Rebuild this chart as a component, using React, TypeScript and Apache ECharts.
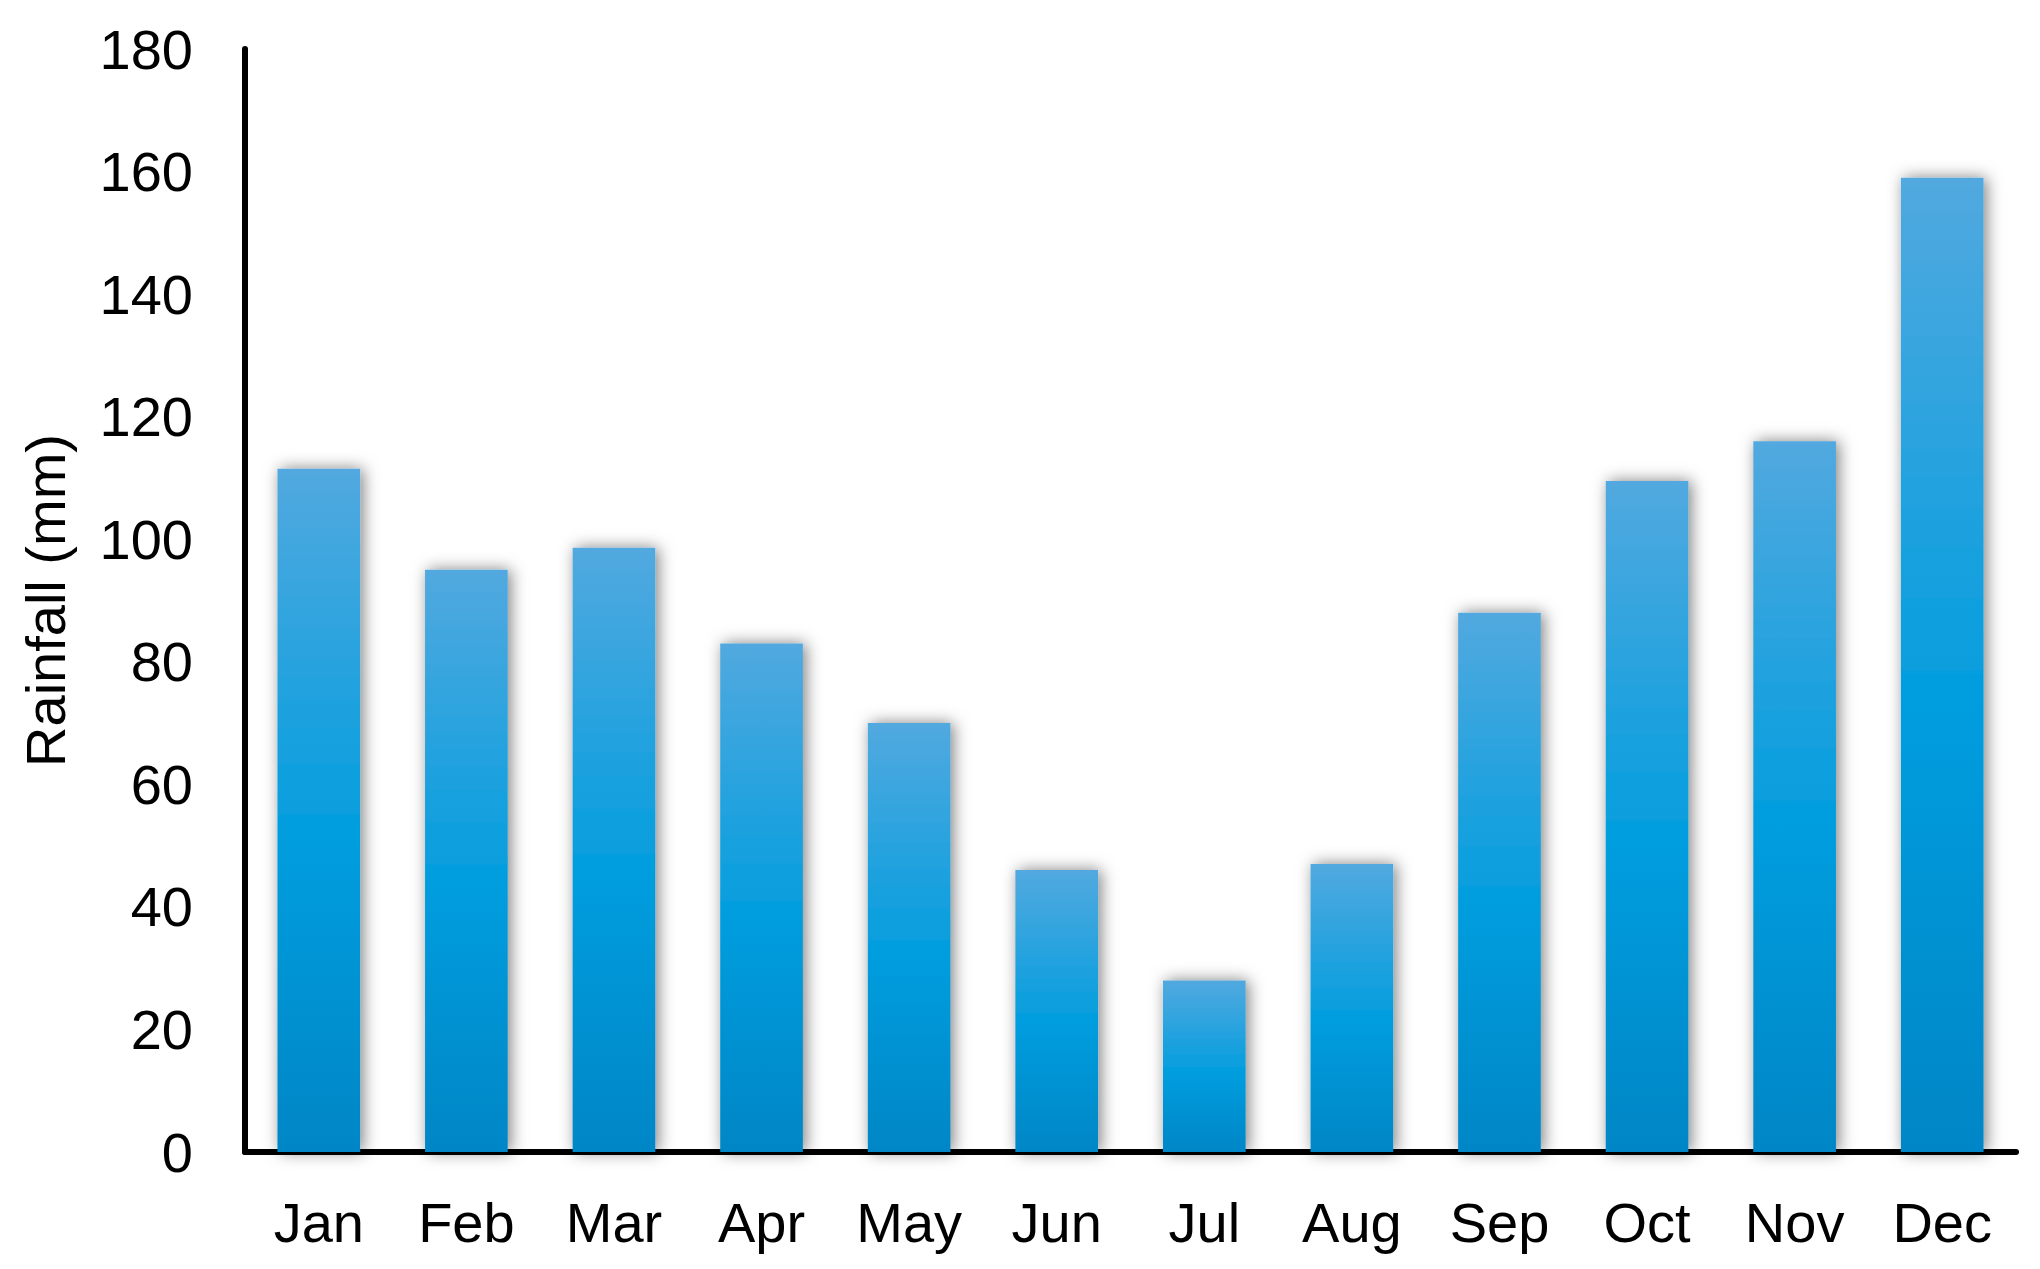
import React, { useEffect, useRef } from "react";
import * as echarts from "echarts";

const months = ["Jan", "Feb", "Mar", "Apr", "May", "Jun", "Jul", "Aug", "Sep", "Oct", "Nov", "Dec"];
const rainfall = [111.5, 95, 98.6, 83, 70, 46, 28, 47, 88, 109.5, 116, 159];
const yMin = 0;
const yMax = 180;
const yStep = 20;
const yTitle = "Rainfall (mm)";

export default function App() {
  const ref = useRef<HTMLDivElement>(null);
  useEffect(() => {
    if (!ref.current) return;
    const chart = echarts.init(ref.current, null, { renderer: "svg" });
    const font = "Liberation Sans";
    chart.setOption({
      animation: false,
      backgroundColor: "#ffffff",
      grid: { left: 245, right: 24, top: 49, bottom: 117, containLabel: false },
      xAxis: {
        type: "category",
        data: months,
        axisLine: { show: true, lineStyle: { color: "#000", width: 6 } },
        axisTick: { show: false },
        axisLabel: { color: "#000", fontFamily: font, fontSize: 56, margin: 42 },
        splitLine: { show: false },
      },
      yAxis: {
        type: "value",
        min: yMin,
        max: yMax,
        interval: yStep,
        name: yTitle,
        nameLocation: "middle",
        nameRotate: 90,
        nameGap: 172,
        nameTextStyle: { color: "#000", fontFamily: font, fontSize: 56 },
        axisLine: { show: true, lineStyle: { color: "#000", width: 6 } },
        axisTick: { show: false },
        axisLabel: { color: "#000", fontFamily: font, fontSize: 56, margin: 52 },
        splitLine: { show: false },
      },
      series: [
        {
          type: "bar",
          data: rainfall,
          barCategoryGap: "44%",
          itemStyle: {
            color: new echarts.graphic.LinearGradient(0, 0, 0, 1, [
              { offset: 0, color: "#52A9DF" },
              { offset: 0.55, color: "#009DDE" },
              { offset: 1, color: "#0086C6" },
            ]),
            shadowBlur: 16,
            shadowColor: "rgba(0,0,0,0.5)",
            shadowOffsetX: 3,
            shadowOffsetY: 0,
          },
        },
      ],
    });
    return () => chart.dispose();
  }, []);
  return <div ref={ref} style={{ position: "fixed", left: 0, top: 0, width: 2040, height: 1269 }} />;
}
